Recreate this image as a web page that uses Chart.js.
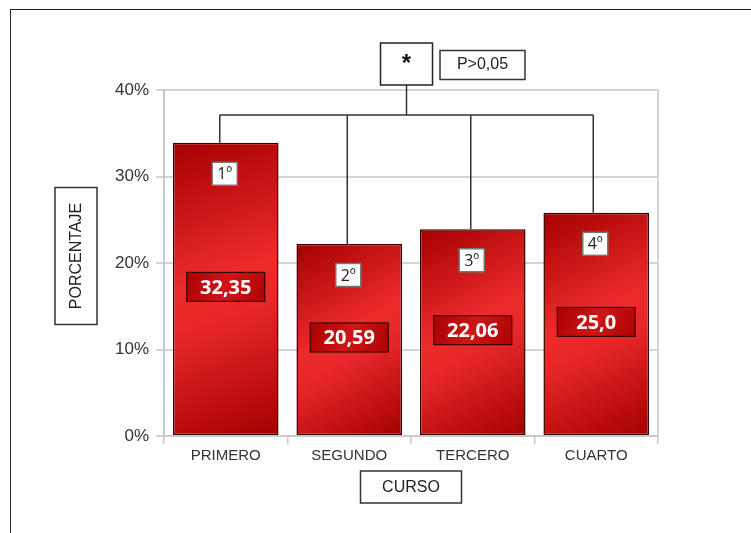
<!DOCTYPE html>
<html>
<head>
<meta charset="utf-8">
<script src="https://cdn.jsdelivr.net/npm/chart.js@4"></script>
<style>
  html, body { margin: 0; padding: 0; background: #fff; }
  #wrap { position: relative; width: 751px; height: 533px; overflow: hidden; }
  #frame { position: absolute; left: 10px; top: 9px; width: 800px; height: 600px;
           border-left: 1.5px solid #222; border-top: 1.5px solid #222; }
  #chart { position: absolute; left: 0; top: 0; }
</style>
</head>
<body>
<div id="wrap">
  <div id="frame"></div>
  <canvas id="chart" width="751" height="533"></canvas>
</div>
<script>
// Datos
const cursos = ['PRIMERO', 'SEGUNDO', 'TERCERO', 'CUARTO'];
const porcentaje = [33.9, 22.2, 23.9, 25.8];          // altura dibujada de cada barra
const etiquetas = ['32,35', '20,59', '22,06', '25,0']; // valor impreso en la barra
const ordinales = ['1º', '2º', '3º', '4º'];
const ticksY = [0, 10, 20, 30, 40];
const nivelCorchete = 37.1;
const textoSignif = '*';
const textoP = 'P>0,05';
const tituloX = 'CURSO';
const tituloY = 'PORCENTAJE';

const FONT = '"Liberation Sans", Arial, sans-serif';
const FONT_B = '"Open Sans", "Liberation Sans", sans-serif';

function barGradient(ctx) {
    const chart = ctx.chart;
    if (!chart.chartArea) return '#d81e1e';
    const x = chart.scales.x.getPixelForValue(ctx.dataIndex);
    const top = chart.scales.y.getPixelForValue(ctx.raw);
    const base = chart.scales.y.getPixelForValue(0);
    const half = 53;
    const g = chart.ctx.createLinearGradient(x - half, top, x + half, base);
    g.addColorStop(0, '#a50000');
    g.addColorStop(0.45, '#ec2b2b');
    g.addColorStop(0.58, '#e82828');
    g.addColorStop(1, '#a40000');
    return g;
}

function box(c, cx, cy, w, h, fill, stroke, lw) {
    c.save();
    c.fillStyle = fill;
    c.fillRect(cx - w / 2, cy - h / 2, w, h);
    c.strokeStyle = stroke;
    c.lineWidth = lw;
    c.strokeRect(cx - w / 2, cy - h / 2, w, h);
    c.restore();
}

// Anotaciones: corchete, cajas de ordinal y valor, titulos con marco
const anotaciones = {
    id: 'anotaciones',
    afterDatasetsDraw(chart) {
        const c = chart.ctx;
        const area = chart.chartArea;
        const meta = chart.getDatasetMeta(0);
        const yS = chart.scales.y;
        const bars = meta.data;

        // corchete
        const yLine = yS.getPixelForValue(nivelCorchete);
        const x0 = bars[0].x - 6, x1 = bars[bars.length - 1].x - 3;
        const xm = (x0 + x1) / 2;
        c.save();
        c.strokeStyle = '#333';
        c.lineWidth = 1.5;
        c.beginPath();
        c.moveTo(x0, yLine); c.lineTo(x1, yLine);
        bars.forEach(function (b, i) {
            const bx = i === 0 ? x0 : (i === bars.length - 1 ? x1 : b.x - 2);
            c.moveTo(bx, yLine); c.lineTo(bx, b.y);
        });
        c.moveTo(xm, yLine); c.lineTo(xm, area.top - 5);
        c.stroke();
        c.restore();

        // caja * y P
        const starCy = area.top - 26;
        box(c, xm, starCy, 52, 42, '#fff', '#222', 1.5);
        box(c, xm + 76, area.top - 25, 85, 29, '#fff', '#333', 1.5);
        c.save();
        c.textAlign = 'center';
        c.textBaseline = 'middle';
        c.fillStyle = '#111';
        c.font = 'bold 24px ' + FONT;
        c.fillText(textoSignif, xm, starCy);
        c.font = '16px ' + FONT;
        c.fillStyle = '#222';
        c.fillText(textoP, xm + 76, area.top - 25);
        c.restore();

        // cajas en cada barra
        bars.forEach(function (b, i) {
            const oy = b.y + 31;
            box(c, b.x - 1, oy, 25, 23, '#fff', '#777', 1.5);
            const vy = (b.y + b.base) / 2 - 2;
            const g = c.createLinearGradient(b.x - 39, vy - 15, b.x + 39, vy + 15);
            g.addColorStop(0, '#a80000');
            g.addColorStop(0.5, '#cf1616');
            g.addColorStop(1, '#ad0202');
            box(c, b.x, vy, 78, 29, g, '#3a0000', 1.2);
            c.save();
            c.textAlign = 'center';
            c.textBaseline = 'middle';
            c.fillStyle = '#222';
            c.font = '16px ' + FONT_B;
            c.fillText(ordinales[i], b.x - 1, oy + 1);
            c.fillStyle = '#fff';
            c.font = 'bold 20px ' + FONT_B;
            c.fillText(etiquetas[i], b.x, vy + 1);
            c.restore();
        });

        // titulo eje X
        const cxT = (area.left + area.right) / 2;
        const cyT = area.bottom + 51;
        box(c, cxT, cyT, 101, 32, '#fff', '#333', 1.5);
        // titulo eje Y
        const cyY = (area.top + area.bottom) / 2 - 7;
        box(c, 76, cyY, 42, 137, '#fff', '#333', 1.5);
        c.save();
        c.fillStyle = '#222';
        c.font = '16px ' + FONT;
        c.textAlign = 'center';
        c.textBaseline = 'middle';
        c.fillText(tituloX, cxT, cyT + 1);
        c.translate(77, cyY);
        c.rotate(-Math.PI / 2);
        c.fillText(tituloY, 0, 0);
        c.restore();
    }
};

new Chart(document.getElementById('chart').getContext('2d'), {
    type: 'bar',
    data: {
        labels: cursos,
        datasets: [{
            data: porcentaje,
            backgroundColor: barGradient,
            borderColor: '#3c0000',
            borderWidth: 1.5,
            borderSkipped: false,
            barPercentage: 0.855,
            categoryPercentage: 1
        }]
    },
    options: {
        responsive: false,
        animation: false,
        layout: { padding: { left: 0, right: 93, top: 90, bottom: 0 } },
        plugins: { legend: { display: false }, tooltip: { enabled: false } },
        scales: {
            x: {
                afterFit: function (s) { s.height = 97; },
                grid: { display: true, drawOnChartArea: false, offset: true, tickLength: 8, color: '#c8c8c8', lineWidth: 1.5 },
                border: { color: '#c8c8c8', width: 2 },
                ticks: { color: '#333', font: { family: FONT, size: 15 }, padding: 3 }
            },
            y: {
                min: 0, max: 40,
                afterFit: function (s) { s.width = 164; },
                afterBuildTicks: function (s) { s.ticks = ticksY.map(function (v) { return { value: v }; }); },
                grid: { color: '#d4d4d4', lineWidth: 2, tickLength: 8 },
                border: { color: '#c8c8c8', width: 2 },
                ticks: { color: '#333', font: { family: FONT, size: 17 }, padding: 7,
                         callback: function (v) { return v + '%'; } }
            },
            y2: {
                position: 'right',
                min: 0, max: 40,
                afterFit: function (s) { s.width = 0; },
                grid: { drawOnChartArea: false, drawTicks: false },
                border: { color: '#d4d4d4', width: 2 },
                ticks: { display: false }
            }
        }
    },
    plugins: [anotaciones]
});
</script>
</body>
</html>
